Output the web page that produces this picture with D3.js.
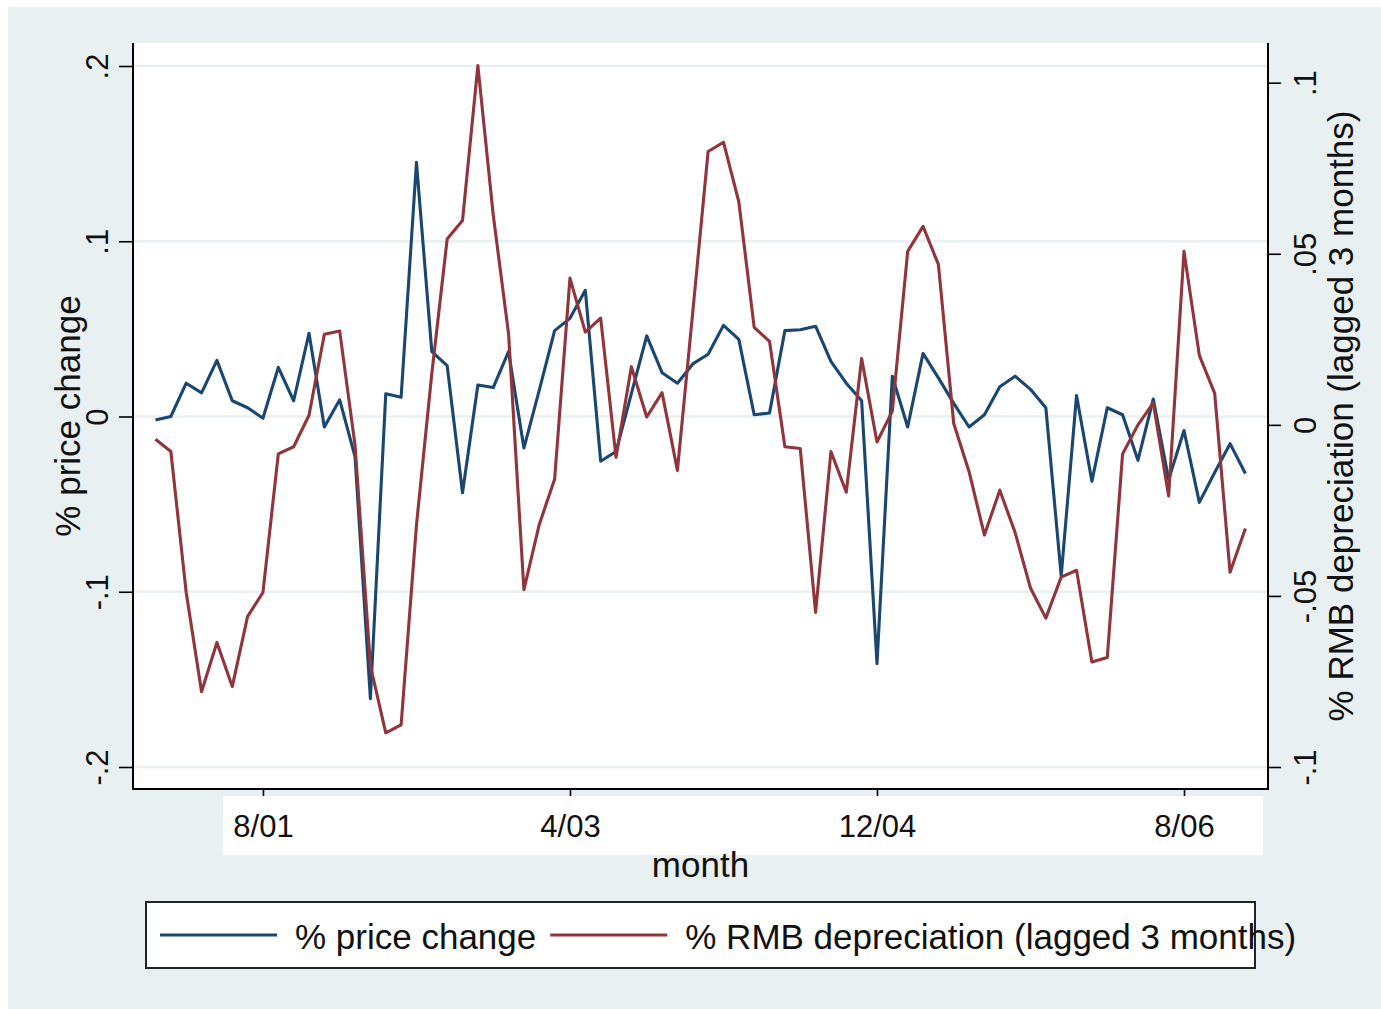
<!DOCTYPE html>
<html>
<head>
<meta charset="utf-8">
<script src="https://cdn.jsdelivr.net/npm/d3@7"></script>
<style>
  body { margin: 0; background: #fff; }
  text { font-family: "Liberation Sans", Arial, sans-serif; fill: #111; }
</style>
</head>
<body>
<svg id="chart"></svg>
<script>
// monthly series, Jan 2001 .. Dec 2006 (index 0..71)
const priceChange = [
  -0.002, 0.000, 0.019, 0.0135, 0.032, 0.009, 0.005, -0.001, 0.028, 0.009,
  0.0475, -0.006, 0.0095, -0.023, -0.161, 0.013, 0.011, 0.145, 0.037, 0.029,
  -0.0435, 0.018, 0.0165, 0.037, -0.018, 0.015, 0.049, 0.056, 0.072, -0.0255,
  -0.020, 0.013, 0.046, 0.025, 0.019, 0.030, 0.0355, 0.052, 0.044, 0.001,
  0.002, 0.049, 0.0495, 0.0515, 0.0315, 0.019, 0.009, -0.141, 0.023, -0.006,
  0.036, 0.022, 0.0075, -0.006, 0.001, 0.017, 0.023, 0.0155, 0.005, -0.091,
  0.012, -0.037, 0.005, 0.001, -0.025, 0.010, -0.036, -0.008, -0.049, -0.032,
  -0.0155, -0.0325
];
const rmbDepreciation = [
  -0.0042, -0.0078, -0.049, -0.078, -0.0636, -0.0765, -0.056, -0.049, -0.0085, -0.0064,
  0.0028, 0.0265, 0.0274, -0.006, -0.0704, -0.090, -0.0877, -0.0293, 0.015, 0.0543,
  0.0597, 0.105, 0.0614, 0.0266, -0.0482, -0.0291, -0.0159, 0.0429, 0.0271, 0.0312,
  -0.0095, 0.017, 0.0023, 0.0094, -0.0133, 0.033, 0.0799, 0.0826, 0.0652, 0.0285,
  0.0244, -0.0064, -0.0069, -0.0548, -0.0078, -0.0197, 0.0194, -0.005, 0.004, 0.0507,
  0.058, 0.0469, 0.0004, -0.0137, -0.0322, -0.0191, -0.0315, -0.0477, -0.0565, -0.0445,
  -0.0425, -0.0693, -0.068, -0.0085, 0.000, 0.0064, -0.0208, 0.0507, 0.0203, 0.0092,
  -0.0431, -0.0303
];

const xTickMonths = [7, 27, 47, 67];
const xTickLabels = ['8/01', '4/03', '12/04', '8/06'];
const leftTicks = [-0.2, -0.1, 0, 0.1, 0.2];
const leftTickLabels = ['-.2', '-.1', '0', '.1', '.2'];
const rightTicks = [-0.1, -0.05, 0, 0.05, 0.1];
const rightTickLabels = ['-.1', '-.05', '0', '.05', '.1'];
const seriesNames = ['% price change', '% RMB depreciation (lagged 3 months)'];
const seriesColors = ['#1a476f', '#90353b'];

// layout
const width = 1381, height = 1009;
const plot = {left: 133, right: 1268, top: 43, bottom: 789};
const bgColor = '#e9f0f2';

const svg = d3.select('#chart')
    .attr('width', width)
    .attr('height', height);

svg.append('rect').attr('x', 0).attr('y', 0).attr('width', width).attr('height', height).attr('fill', '#fff');
svg.append('rect').attr('x', 8).attr('y', 7).attr('width', width - 8).attr('height', height - 7).attr('fill', bgColor);
svg.append('rect')
    .attr('x', plot.left).attr('y', plot.top)
    .attr('width', plot.right - plot.left).attr('height', plot.bottom - plot.top)
    .attr('fill', '#fff');
// white strip behind the month labels
svg.append('rect').attr('x', 223).attr('y', 796).attr('width', 1040).attr('height', 59).attr('fill', '#fff');

const x = d3.scaleLinear().domain([0, 71]).range([155.5, 1245.4]);
const yLeft = d3.scaleLinear().domain([-0.2, 0.2]).range([767, 66]);
const yRight = d3.scaleLinear().domain([-0.1, 0.1]).range([767, 82.7]);

// grid lines
svg.append('g').selectAll('line')
    .data(leftTicks)
    .enter()
    .append('line')
    .attr('x1', plot.left).attr('x2', plot.right)
    .attr('y1', d => yLeft(d)).attr('y2', d => yLeft(d))
    .attr('stroke', bgColor)
    .attr('stroke-width', 2.5);

// lines
const lineLeft = d3.line().x((d, i) => x(i)).y(d => yLeft(d));
const lineRight = d3.line().x((d, i) => x(i)).y(d => yRight(d));

svg.append('path')
    .datum(priceChange)
    .attr('d', lineLeft)
    .attr('fill', 'none')
    .attr('stroke', seriesColors[0])
    .attr('stroke-width', 3.1)
    .attr('stroke-linejoin', 'round');

svg.append('path')
    .datum(rmbDepreciation)
    .attr('d', lineRight)
    .attr('fill', 'none')
    .attr('stroke', seriesColors[1])
    .attr('stroke-width', 3.1)
    .attr('stroke-linejoin', 'round');

// axes
const gLeft = svg.append('g')
    .attr('transform', 'translate(' + plot.left + ',0)')
    .call(d3.axisLeft(yLeft)
        .tickValues(leftTicks)
        .tickFormat((d, i) => leftTickLabels[i])
        .tickSize(14)
        .tickSizeOuter(0));
gLeft.select('.domain').remove();
gLeft.selectAll('line').attr('stroke', '#000').attr('stroke-width', 1.6);
gLeft.selectAll('text')
    .attr('x', null).attr('dy', null)
    .attr('transform', 'translate(-25,0) rotate(-90)')
    .attr('text-anchor', 'middle')
    .style('font-size', '31px')
    .style('font-family', '"Liberation Sans", Arial, sans-serif')
    .attr('fill', '#111');

const gRight = svg.append('g')
    .attr('transform', 'translate(' + plot.right + ',0)')
    .call(d3.axisRight(yRight)
        .tickValues(rightTicks)
        .tickFormat((d, i) => rightTickLabels[i])
        .tickSize(13)
        .tickSizeOuter(0));
gRight.select('.domain').remove();
gRight.selectAll('line').attr('stroke', '#000').attr('stroke-width', 1.6);
gRight.selectAll('text')
    .attr('x', null).attr('dy', null)
    .attr('transform', 'translate(48,0) rotate(-90)')
    .attr('text-anchor', 'middle')
    .style('font-size', '31px')
    .style('font-family', '"Liberation Sans", Arial, sans-serif')
    .attr('fill', '#111');

const gBottom = svg.append('g')
    .attr('transform', 'translate(0,' + plot.bottom + ')')
    .call(d3.axisBottom(x)
        .tickValues(xTickMonths)
        .tickFormat((d, i) => xTickLabels[i])
        .tickSize(7)
        .tickSizeOuter(0));
gBottom.select('.domain').remove();
gBottom.selectAll('line').attr('stroke', '#000').attr('stroke-width', 1.6);
gBottom.selectAll('text')
    .attr('y', 48).attr('dy', null)
    .style('font-size', '31px')
    .style('font-family', '"Liberation Sans", Arial, sans-serif')
    .attr('fill', '#222');

// axis lines
svg.append('line').attr('x1', plot.left).attr('x2', plot.left).attr('y1', plot.top).attr('y2', plot.bottom)
    .attr('stroke', '#000').attr('stroke-width', 2);
svg.append('line').attr('x1', plot.right).attr('x2', plot.right).attr('y1', plot.top).attr('y2', plot.bottom)
    .attr('stroke', '#000').attr('stroke-width', 2);
svg.append('line').attr('x1', plot.left - 1).attr('x2', plot.right + 1).attr('y1', plot.bottom).attr('y2', plot.bottom)
    .attr('stroke', '#000').attr('stroke-width', 2);

// axis titles
const midY = (plot.top + plot.bottom) / 2;
svg.append('text')
    .attr('transform', 'translate(80,' + midY + ') rotate(-90)')
    .attr('text-anchor', 'middle')
    .style('font-size', '35px')
    .text(seriesNames[0]);
svg.append('text')
    .attr('transform', 'translate(1353,' + midY + ') rotate(-90)')
    .attr('text-anchor', 'middle')
    .style('font-size', '35px')
    .text(seriesNames[1]);
svg.append('text')
    .attr('x', (plot.left + plot.right) / 2)
    .attr('y', 877)
    .attr('text-anchor', 'middle')
    .style('font-size', '35px')
    .text('month');

// legend
const legend = svg.append('g');
legend.append('rect')
    .attr('x', 146).attr('y', 902).attr('width', 1109).attr('height', 66)
    .attr('fill', '#fff').attr('stroke', '#222').attr('stroke-width', 2);

let cursor = 160;
seriesNames.forEach(function(name, i) {
  legend.append('line')
      .attr('x1', cursor).attr('x2', cursor + 117)
      .attr('y1', 935).attr('y2', 935)
      .attr('stroke', seriesColors[i])
      .attr('stroke-width', 3);
  const t = legend.append('text')
      .attr('x', cursor + 135)
      .attr('y', 949)
      .style('font-size', '35px')
      .text(name);
  cursor = cursor + 135 + t.node().getComputedTextLength() + 14;
});
</script>
</body>
</html>
